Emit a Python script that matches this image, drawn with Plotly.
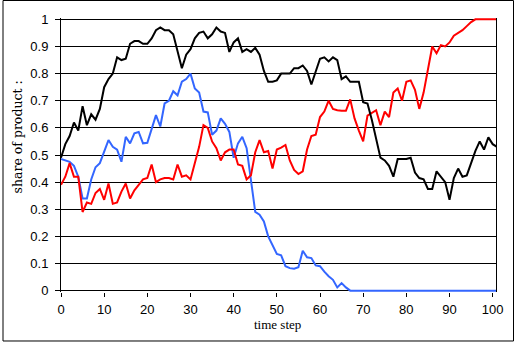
import plotly.graph_objects as go

# time steps 0..101
steps = list(range(102))

share_black = [
    0.49, 0.54, 0.57, 0.62, 0.59, 0.68, 0.61, 0.65, 0.63, 0.67,
    0.75, 0.78, 0.80, 0.86, 0.85, 0.855, 0.91, 0.92, 0.92, 0.91,
    0.91, 0.93, 0.96, 0.97, 0.96, 0.96, 0.945, 0.88, 0.82, 0.87,
    0.89, 0.93, 0.95, 0.955, 0.93, 0.945, 0.97, 0.955, 0.95, 0.88,
    0.915, 0.93, 0.88, 0.89, 0.88, 0.895, 0.87, 0.81, 0.77, 0.77,
    0.775, 0.80, 0.80, 0.80, 0.82, 0.82, 0.83, 0.81, 0.76, 0.81,
    0.855, 0.86, 0.845, 0.86, 0.85, 0.78, 0.79, 0.77, 0.77, 0.77,
    0.695, 0.69, 0.63, 0.56, 0.49, 0.48, 0.46, 0.42, 0.485, 0.485,
    0.485, 0.49, 0.435, 0.415, 0.41, 0.375, 0.375, 0.44, 0.42, 0.40,
    0.335, 0.415, 0.45, 0.42, 0.425, 0.47, 0.515, 0.55, 0.52, 0.565,
    0.54, 0.53,
]

share_red = [
    0.39, 0.42, 0.47, 0.42, 0.42, 0.29, 0.325, 0.32, 0.36, 0.375,
    0.335, 0.395, 0.32, 0.325, 0.365, 0.395, 0.34, 0.37, 0.39, 0.41,
    0.415, 0.465, 0.40, 0.41, 0.415, 0.415, 0.41, 0.465, 0.42, 0.425,
    0.41, 0.475, 0.53, 0.61, 0.60, 0.55, 0.525, 0.48, 0.51, 0.52,
    0.52, 0.465, 0.46, 0.41, 0.425, 0.51, 0.555, 0.51, 0.515, 0.45,
    0.52, 0.527, 0.537, 0.48, 0.445, 0.43, 0.44, 0.52, 0.57, 0.575,
    0.64, 0.66, 0.70, 0.67, 0.665, 0.663, 0.663, 0.705, 0.635, 0.59,
    0.55, 0.645, 0.655, 0.665, 0.61, 0.66, 0.64, 0.73, 0.745, 0.70,
    0.77, 0.775, 0.74, 0.67, 0.73, 0.81, 0.90, 0.875, 0.905, 0.90,
    0.915, 0.94, 0.95, 0.96, 0.975, 0.99, 1.0, 1.0, 1.0, 1.0,
    1.0, 1.0,
]

share_blue = [
    0.485, 0.48, 0.475, 0.46, 0.42, 0.34, 0.34, 0.41, 0.455, 0.47,
    0.51, 0.555, 0.53, 0.52, 0.475, 0.567, 0.543, 0.58, 0.585, 0.543,
    0.545, 0.60, 0.647, 0.605, 0.69, 0.70, 0.735, 0.72, 0.77, 0.78,
    0.80, 0.745, 0.73, 0.66, 0.657, 0.575, 0.59, 0.635, 0.615, 0.585,
    0.49, 0.543, 0.567, 0.525, 0.40, 0.29, 0.28, 0.255, 0.20, 0.17,
    0.135, 0.13, 0.09, 0.083, 0.081, 0.086, 0.147, 0.123, 0.12, 0.093,
    0.09, 0.07, 0.053, 0.04, 0.012, 0.028, 0.012, 0.0, 0.0, 0.0,
    0.0, 0.0, 0.0, 0.0, 0.0, 0.0, 0.0, 0.0, 0.0, 0.0,
    0.0, 0.0, 0.0, 0.0, 0.0, 0.0, 0.0, 0.0, 0.0, 0.0,
    0.0, 0.0, 0.0, 0.0, 0.0, 0.0, 0.0, 0.0, 0.0, 0.0,
    0.0, 0.0,
]

x_ticks = list(range(0, 101, 10))
y_ticks = [round(0.1 * i, 1) for i in range(11)]
y_tick_text = ["0"] + [f"{v:g}" for v in y_ticks[1:]]

W, H = 515, 345
left, right = 61, 19
top_px, bottom_px = 19, 54          # pixel rows of y=1 and y=0 edges
pad = 0.005                         # keeps lines at 0 and 1 fully visible
unit = H - top_px - bottom_px       # pixels per unit of share
m_t = top_px - pad * unit
m_b = bottom_px - pad * unit
plot_w = W - left - right


def px_x(px):
    return (px - left) / plot_w


def px_y(py):
    return (H - bottom_px - py) / unit + pad


fig = go.Figure()
for ys, col in [(share_blue, "#3366FF"), (share_red, "#FF0000"), (share_black, "#000000")]:
    fig.add_trace(go.Scatter(x=steps, y=ys, mode="lines",
                             line=dict(color=col, width=2), showlegend=False,
                             hoverinfo="skip"))

tick_font = dict(family="Liberation Sans, Arial, sans-serif", size=13, color="#000")
xtitle_font = dict(family="Liberation Serif, Times New Roman, serif", size=13, color="#000")
ytitle_font = dict(family="DejaVu Serif, serif", size=12.5, color="#000")

fig.update_layout(
    width=W, height=H,
    margin=dict(l=left, r=right, t=m_t, b=m_b, pad=0),
    paper_bgcolor="white", plot_bgcolor="white",
    xaxis=dict(range=[0, 100.77], tickmode="array", tickvals=x_ticks,
               ticktext=[str(v) for v in x_ticks],
               showgrid=False, zeroline=False, showline=False,
               ticks="outside", ticklen=4, tickcolor="#000", tickwidth=1,
               tickfont=tick_font, ticklabelstandoff=1),
    yaxis=dict(range=[-pad, 1 + pad], tickmode="array", tickvals=y_ticks,
               ticktext=y_tick_text,
               showgrid=True, gridcolor="#000", gridwidth=1, zeroline=False,
               showline=True, linecolor="#000", linewidth=1, mirror=True,
               ticks="outside", ticklen=5, tickcolor="#000", tickwidth=1,
               tickfont=tick_font, ticklabelstandoff=4),
    annotations=[
        dict(text="time step", xref="paper", yref="paper",
             x=px_x(277), y=px_y(325),
             xanchor="center", yanchor="middle", showarrow=False, font=xtitle_font),
        dict(text="share of product :", xref="paper", yref="paper",
             x=px_x(18), y=px_y(139),
             xanchor="center", yanchor="middle", showarrow=False, textangle=-90,
             font=ytitle_font),
    ],
    shapes=[
        dict(type="rect", xref="paper", yref="paper",
             x0=px_x(3), x1=px_x(513.5), y0=px_y(341), y1=px_y(3),
             line=dict(color="#000", width=1), layer="below"),
    ],
)

fig.write_html("out.html")
